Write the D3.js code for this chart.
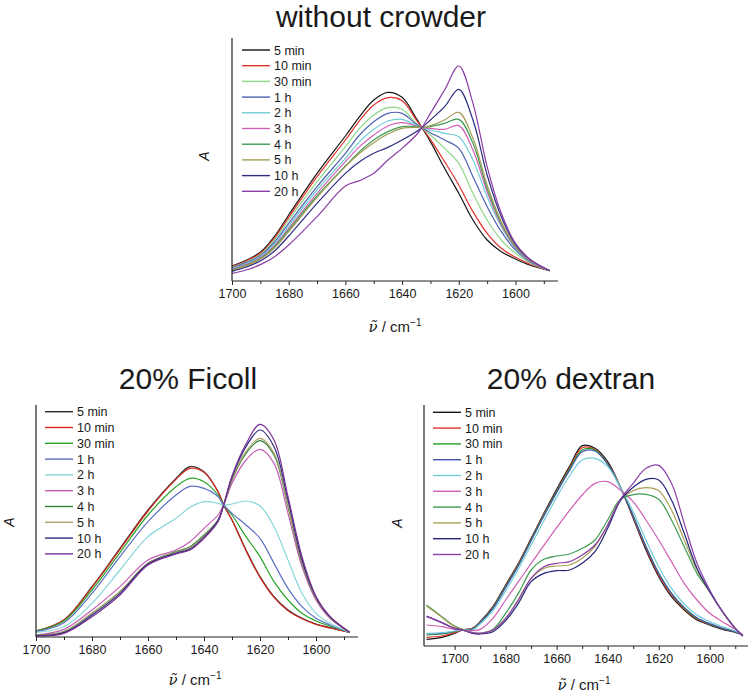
<!DOCTYPE html>
<html><head><meta charset="utf-8">
<script src="https://cdn.jsdelivr.net/npm/d3@7"></script>
<style>
html,body{margin:0;padding:0;background:#fff;}
text{font-family:"Liberation Sans",Arial,sans-serif;fill:#1a1a1a;}
</style></head>
<body>
<svg id="c" width="753" height="695"></svg>
<script>
const seriesLabels = ["5 min","10 min","30 min","1 h","2 h","3 h","4 h","5 h","10 h","20 h"];
const panelTitles = ["without crowder","20% Ficoll","20% dextran"];
const xTicksMajor = [1700,1680,1660,1640,1620,1600];
const xTicksMinor = [1690,1670,1650,1630,1610,1590];

// without crowder
const wnTop = [1700,1695,1690,1685,1680,1670,1660,1655,1650,1645,1640,1635,1633,1630,1625,1620,1615,1610,1605,1600,1595,1588];
const absTop = [
 [45,62,86,134,198,323,435,493,543,566,551,488,460,418,338,263,183,123,88,66,48,31],
 [43,60,83,129,191,313,423,481,528,550,541,483,460,425,358,288,208,143,98,71,51,31],
 [41,57,79,123,183,298,403,458,498,520,515,473,460,438,398,353,263,183,123,83,55,31],
 [39,55,76,117,173,283,383,438,478,503,503,470,460,445,423,398,313,223,148,93,58,31],
 [37,52,73,112,166,273,368,418,455,480,485,467,460,453,443,433,363,253,163,98,60,31],
 [35,50,70,107,158,263,358,403,438,465,475,465,460,458,455,466,393,268,168,101,61,31],
 [33,48,67,103,153,255,345,388,423,448,463,463,460,463,473,485,413,278,173,103,63,31],
 [31,46,65,99,148,251,343,383,415,441,458,461,460,466,483,506,428,288,178,105,63,31],
 [29,42,60,90,135,233,323,358,383,401,423,448,460,483,523,575,483,318,193,110,65,31],
 [23,33,49,73,108,193,285,301,323,363,398,438,460,503,573,645,533,343,203,113,66,31]
];

// 20% Ficoll
const wnFicoll = [1700,1690,1680,1670,1660,1650,1645,1640,1635,1633,1630,1625,1620,1615,1610,1605,1600,1595,1588];
const absFicoll = [
 [18,51,151,266,381,476,511,496,436,396,351,261,181,121,81,56,39,28,14],
 [18,51,149,263,378,473,506,494,436,396,351,259,179,119,79,55,38,27,14],
 [18,48,141,253,366,451,476,466,426,396,366,301,241,166,111,71,48,33,14],
 [16,43,131,241,346,426,452,446,421,396,371,336,296,221,146,91,56,36,14],
 [14,31,101,201,301,356,389,406,401,396,399,408,393,331,231,131,71,41,14],
 [6,23,81,151,231,261,286,326,366,396,461,531,563,521,371,211,111,56,14],
 [5,16,71,136,221,256,271,306,351,396,471,551,589,546,391,221,116,59,14],
 [5,16,71,136,221,254,268,303,349,396,473,556,596,551,396,224,118,60,14],
 [4,13,66,131,219,251,264,299,349,396,479,571,621,571,411,231,121,61,14],
 [3,11,61,126,216,249,261,296,346,396,483,579,638,591,421,241,121,61,14]
];

// 20% dextran
const wnDextran = [1711,1705,1700,1697,1693,1690,1685,1680,1675,1670,1665,1660,1655,1650,1645,1640,1635,1630,1625,1620,1615,1610,1605,1600,1595,1590,1587];
const absDextran = [
 [20,26,38,48,53,73,118,183,248,323,398,470,538,601,593,553,476,383,288,208,148,108,78,63,50,41,33],
 [26,30,40,48,52,71,116,180,246,320,395,466,533,595,590,548,476,386,293,213,153,111,81,65,52,42,33],
 [33,36,43,48,51,70,114,178,243,318,393,463,530,588,588,546,476,390,298,218,158,114,83,66,53,43,33],
 [36,38,44,48,50,69,112,176,241,316,390,460,526,583,585,545,476,390,298,218,158,116,85,67,53,43,33],
 [38,40,45,48,48,66,106,166,231,303,376,446,510,558,563,538,476,403,318,238,173,126,93,73,58,45,33],
 [63,58,50,48,46,50,83,138,193,248,302,355,406,453,488,493,468,433,378,318,253,188,138,98,73,50,33],
 [123,88,60,50,40,38,50,98,158,228,260,270,276,293,318,378,440,454,455,440,378,298,218,163,103,53,30],
 [120,86,58,50,40,38,48,83,140,203,233,240,243,263,298,363,438,466,475,466,408,318,228,163,103,53,30],
 [90,70,53,48,38,36,43,76,128,193,218,226,228,248,283,353,436,476,500,498,438,338,233,163,103,53,30],
 [88,70,53,48,40,38,48,83,138,203,238,248,253,273,303,363,440,488,533,542,488,368,248,168,103,53,30]
];

const colorsTop = ["#151515","#e2322b","#8fd68a","#4e62b2","#72cdd6","#d060b5","#3d9b52","#a59b55","#2c2c80","#8a3ea6"];
const colorsFicoll = ["#2a2a2a","#d42a1e","#2aa52a","#5c70c2","#86d6da","#c75cb3","#2f7f36","#aaa16a","#2b2b7c","#7b3096"];
const colorsDextran = ["#151515","#e2322b","#23a023","#4156b0","#72cdd6","#d060b5","#3d9b52","#aaa055","#25257c","#8a3ea6"];

const svg = d3.select("#c");

function panel(cfg){
  const g = svg.append("g");
  const x = d3.scaleLinear().domain(cfg.xDomain).range(cfg.xRange);
  const y = d3.scaleLinear().domain(cfg.yDomain).range(cfg.yRange);
  g.append("text").attr("x",cfg.titleX).attr("y",cfg.titleY).attr("text-anchor","middle")
    .style("font-size","30px").text(cfg.title);
  const line = d3.line().x(d=>x(d[0])).y(d=>y(d[1])).curve(d3.curveCatmullRom.alpha(0.5));
  cfg.abs.forEach((arr,i)=>{
    g.append("path").datum(cfg.wn.map((w,j)=>[w,arr[j]]))
      .attr("d",line).attr("fill","none").attr("stroke",cfg.colors[i]).attr("stroke-width",1.2);
  });
  g.append("line").attr("x1",cfg.xRange[0]).attr("x2",cfg.xRange[0])
    .attr("y1",cfg.yRange[1]).attr("y2",cfg.yRange[0]).attr("stroke","#222").attr("stroke-width",1.2);
  const ax = g.append("g").attr("transform",`translate(0,${cfg.yRange[0]})`)
    .call(d3.axisBottom(x).tickValues(xTicksMajor).tickSize(4).tickPadding(4).tickFormat(d3.format("d")));
  ax.select(".domain").attr("stroke","#222").attr("stroke-width",1.2).attr("d",`M${cfg.xRange[0]},0H${cfg.xRange[1]}`);
  ax.selectAll(".tick line").attr("stroke","#222");
  ax.selectAll(".tick text").style("font-size","12.5px").style("font-family","Liberation Sans, Arial, sans-serif").attr("fill","#1a1a1a");
  const ax2 = g.append("g").attr("transform",`translate(0,${cfg.yRange[0]})`)
    .call(d3.axisBottom(x).tickValues(xTicksMinor.filter(v=>v<=cfg.xDomain[0]&&v>=cfg.xDomain[1])).tickSize(3).tickFormat(""));
  ax2.select(".domain").remove();
  ax2.selectAll(".tick line").attr("stroke","#222");
  g.append("text").attr("transform",`translate(${cfg.aX},${cfg.aY}) rotate(-90)`).attr("text-anchor","middle")
    .style("font-size","14px").style("font-style","italic").text("A");
  const xl = g.append("text").attr("x",cfg.nuX).attr("y",cfg.nuY).attr("text-anchor","middle").style("font-size","15px");
  xl.append("tspan").style("font-style","italic").style("font-family","DejaVu Serif, serif").text("\u03bd\u0303");
  xl.append("tspan").text(" / cm");
  xl.append("tspan").attr("dy",-6).style("font-size","10px").text("\u22121");
  const lg = g.append("g");
  seriesLabels.forEach((s,i)=>{
    const yy = cfg.legY + i*cfg.legDy;
    lg.append("line").attr("x1",cfg.legX).attr("x2",cfg.legX+28).attr("y1",yy).attr("y2",yy)
      .attr("stroke",cfg.colors[i]).attr("stroke-width",1.4);
    lg.append("text").attr("x",cfg.legX+32).attr("y",yy+4.5).style("font-size","12.5px").text(s);
  });
}

panel({title:panelTitles[0], titleX:381, titleY:27, wn:wnTop, abs:absTop, colors:colorsTop,
  xDomain:[1700,1585], xRange:[232,558], yDomain:[0,729], yRange:[281,38],
  aX:209, aY:156, nuX:395, nuY:332, legX:242, legY:50, legDy:15.7});
panel({title:panelTitles[1], titleX:188, titleY:389, wn:wnFicoll, abs:absFicoll, colors:colorsFicoll,
  xDomain:[1700,1585], xRange:[36,358], yDomain:[0,696], yRange:[637,405],
  aX:14, aY:522, nuX:195, nuY:685, legX:45, legY:411.7, legDy:15.8});
panel({title:panelTitles[2], titleX:571, titleY:389, wn:wnDextran, abs:absDextran, colors:colorsDextran,
  xDomain:[1712,1585], xRange:[424,748], yDomain:[0,723], yRange:[646,405],
  aX:402, aY:523, nuX:584, nuY:690, legX:433, legY:412.3, legDy:15.8});
</script>
</body></html>
